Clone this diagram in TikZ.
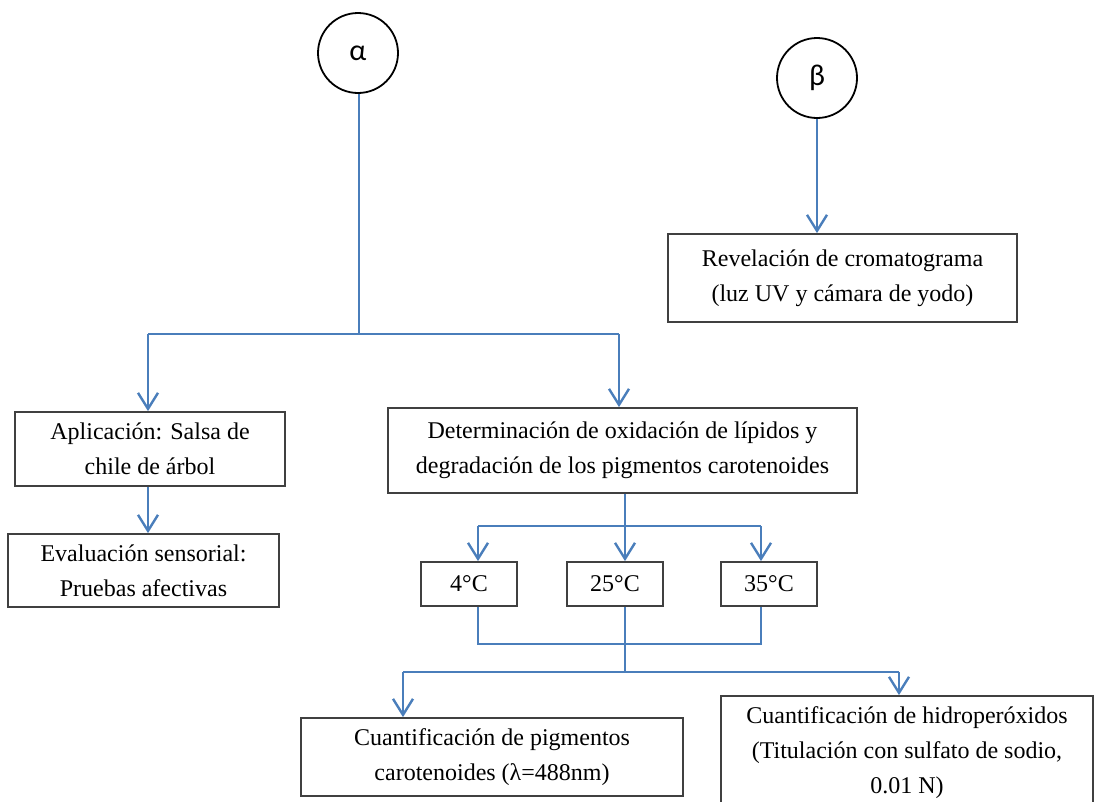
\documentclass[tikz,border=0pt]{standalone}
\usepackage{fontspec}
\setmainfont{Liberation Serif}
\newfontfamily\calib{Carlito}
\usetikzlibrary{arrows.meta}
\definecolor{lnblue}{RGB}{74,126,187}
\definecolor{bxgray}{RGB}{64,64,64}
\begin{document}
\begin{tikzpicture}[x=1pt,y=-1pt,
  box/.style={draw=bxgray, line width=1.8pt, align=center, inner sep=0pt, font=\fontsize{24}{35}\selectfont},
  greek/.style={draw=black, circle, line width=1.8pt, minimum size=80pt, inner sep=0pt, font=\calib\fontsize{30}{36}\selectfont},
  conn/.style={draw=lnblue, line width=2.4pt},
  arr/.style={conn, -{Straight Barb[length=16pt,width=20pt,line width=2.4pt]}}]
\useasboundingbox (0,0) rectangle (1094,801);
\clip (0,0) rectangle (1094,801);
% circles
\node[greek] (alpha) at (358,53) {α};
\node[greek] (beta) at (817,78) {β};
% boxes
\node[box, minimum width=349pt, minimum height=88pt] (rev) at (842.5,278) {Revelación de cromatograma\\(luz UV y cámara de yodo)};
\node[box, minimum width=270pt, minimum height=74pt] (apl) at (150,449) {Aplicación: Salsa de\\chile de árbol};
\node[box, minimum width=271pt, minimum height=73pt] (eva) at (143.5,570.5) {Evaluación sensorial:\\Pruebas afectivas};
\node[box, minimum width=469pt, minimum height=85pt] (det) at (622.5,450.5) {Determinación de oxidación de lípidos y\\degradación de los pigmentos carotenoides};
\node[box, minimum width=96pt, minimum height=44pt] (t4) at (469,584) {4°C};
\node[box, minimum width=96pt, minimum height=44pt] (t25) at (615,584) {25°C};
\node[box, minimum width=96pt, minimum height=44pt] (t35) at (769,584) {35°C};
\node[box, minimum width=382pt, minimum height=78pt] (pig) at (492,757) {Cuantificación de pigmentos\\carotenoides (λ=488nm)};
\node[box, minimum width=372pt, minimum height=114pt] (hid) at (907,753) {Cuantificación de hidroperóxidos\\(Titulación con sulfato de sodio,\\0.01 N)};
% junction coordinates
\coordinate (ja) at (359,334);
\coordinate (ja1) at (148,334);
\coordinate (ja2) at (619,334);
\coordinate (jd) at (625,526);
\coordinate (jd1) at (478,526);
\coordinate (jd3) at (761,526);
\coordinate (jt) at (625,644);
\coordinate (jt1) at (478,644);
\coordinate (jt3) at (761,644);
\coordinate (jb) at (625,672);
\coordinate (jb1) at (403,672);
\coordinate (jb2) at (899,672);
% alpha branch
\draw[conn] (alpha.south -| ja) -- (ja);
\draw[conn] (ja1) -- (ja2);
\draw[arr] (ja1) -- (ja1 |- apl.north);
\draw[arr] (ja2) -- (ja2 |- det.north);
\draw[arr] (ja1 |- apl.south) -- (ja1 |- eva.north);
% beta branch
\draw[arr] (beta.south) -- (beta.south |- rev.north);
% determination branch
\draw[conn] (jd |- det.south) -- (jd);
\draw[conn] (jd1) -- (jd3);
\draw[arr] (jd1) -- (jd1 |- t4.north);
\draw[arr] (jd) -- (jd |- t25.north);
\draw[arr] (jd3) -- (jd3 |- t35.north);
% merge
\draw[conn] (jt1 |- t4.south) -- (jt1) -- (jt3) -- (jt3 |- t35.south);
\draw[conn] (jt |- t25.south) -- (jb);
\draw[conn] (jb1) -- (jb2);
\draw[arr] (jb1) -- (jb1 |- pig.north);
\draw[arr] (jb2) -- (jb2 |- hid.north);
\end{tikzpicture}
\end{document}
